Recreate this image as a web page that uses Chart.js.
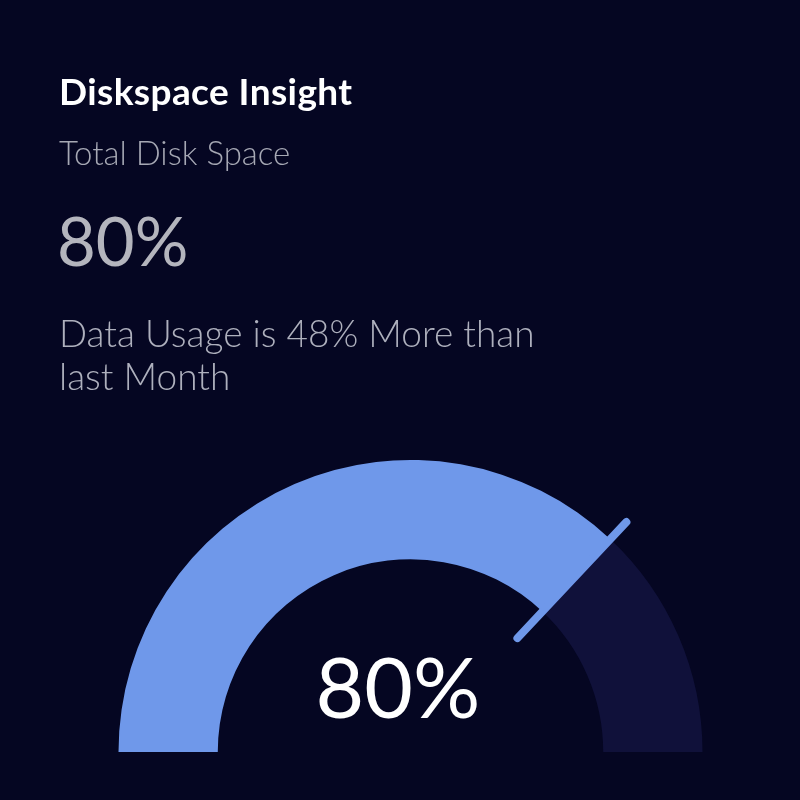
<!DOCTYPE html>
<html>
<head>
<meta charset="utf-8">
<script src="https://cdn.jsdelivr.net/npm/chart.js@4.4.1/dist/chart.umd.min.js"></script>
<style>
  html, body { margin: 0; padding: 0; background: #050622; }
  #wrap { position: relative; width: 800px; height: 800px; background: #050622; overflow: hidden; font-family: Lato, "Open Sans", sans-serif; }
  #c { position: absolute; left: 0; top: 0; }
  .t { position: absolute; white-space: nowrap; line-height: 1; }
  #title { left: 59px; top: 72px; font-size: 37px; font-weight: 700; letter-spacing: 0.4px; color: #ffffff; }
  #sub { left: 59px; top: 136px; font-size: 33px; font-weight: 300; color: #a6a8b4; }
  #big { left: 57px; top: 207px; font-size: 67px; font-weight: 400; color: #b4b5bd; }
  #para { left: 59px; top: 311px; font-size: 37px; font-weight: 300; color: #aeb0bd; line-height: 43px; white-space: normal; width: 600px; }
  #center { left: 248px; width: 300px; text-align: center; top: 644px; font-size: 84px; font-weight: 400; color: #ffffff; }
</style>
</head>
<body>
<div id="wrap">
  <canvas id="c" width="800" height="800"></canvas>
  <div class="t" id="title"></div>
  <div class="t" id="sub"></div>
  <div class="t" id="big"></div>
  <div class="t" id="para"></div>
  <div class="t" id="center"></div>
</div>
<script>
// ---- data ----
const titleText = "Diskspace Insight";
const subtitleText = "Total Disk Space";
const displayedValue = "80%";
const noteLines = ["Data Usage is 48% More than", "last Month"];
const segmentLabels = ["Used", "Free"];
const segmentValues = [74, 26];          // arc split as drawn in the picture
const segmentColors = ["#6f98ea", "#10113a"];
const needleColor = "#6f98ea";

document.getElementById('title').textContent = titleText;
document.getElementById('sub').textContent = subtitleText;
document.getElementById('big').textContent = displayedValue;
document.getElementById('para').innerHTML = noteLines.join('<br>');
document.getElementById('center').textContent = displayedValue;

const needlePlugin = {
  id: 'needle',
  afterDatasetsDraw(chart) {
    const meta = chart.getDatasetMeta(0);
    const arc = meta.data[0];
    if (!arc) return;
    const { x, y, endAngle, outerRadius } = arc.getProps(['x', 'y', 'endAngle', 'outerRadius'], true);
    const ctx = chart.ctx;
    const r1 = outerRadius * 0.535, r2 = outerRadius * 1.08;
    ctx.save();
    ctx.strokeStyle = needleColor;
    ctx.lineWidth = 8;
    ctx.lineCap = 'round';
    ctx.beginPath();
    ctx.moveTo(x + Math.cos(endAngle) * r1, y + Math.sin(endAngle) * r1);
    ctx.lineTo(x + Math.cos(endAngle) * r2, y + Math.sin(endAngle) * r2);
    ctx.stroke();
    ctx.restore();
  }
};

new Chart(document.getElementById('c'), {
  type: 'doughnut',
  data: {
    labels: segmentLabels,
    datasets: [{
      data: segmentValues,
      backgroundColor: segmentColors,
      borderWidth: 0,
      hoverOffset: 0
    }]
  },
  options: {
    responsive: false,
    maintainAspectRatio: false,
    animation: false,
    rotation: -90,
    circumference: 180,
    cutout: '66%',
    layout: { padding: { left: 118, right: 97, top: 460, bottom: 48 } },
    plugins: { legend: { display: false }, tooltip: { enabled: false }, title: { display: false } }
  },
  plugins: [needlePlugin]
});
</script>
</body>
</html>
